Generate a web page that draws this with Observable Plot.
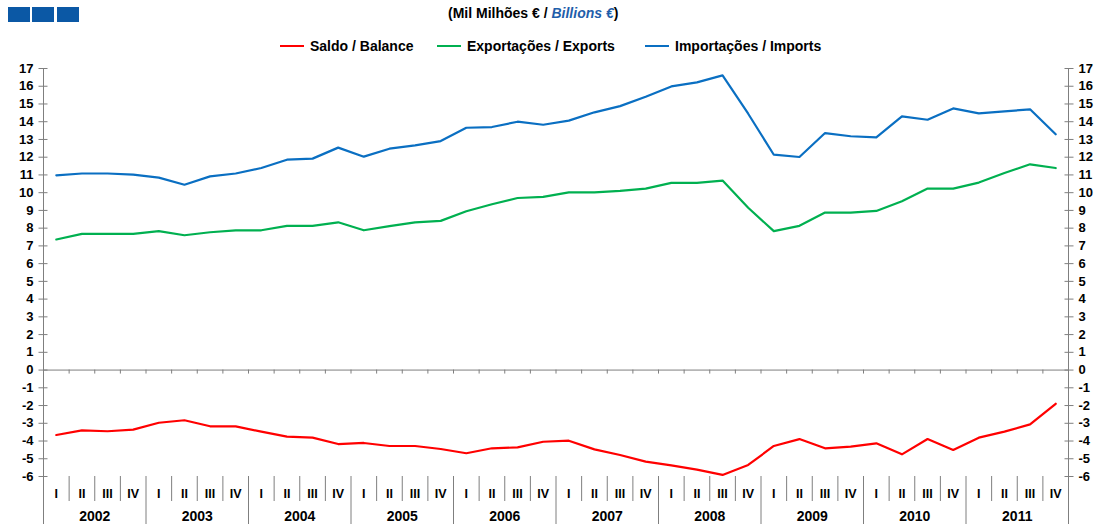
<!DOCTYPE html>
<html>
<head>
<meta charset="utf-8">
<script src="https://cdn.jsdelivr.net/npm/d3@7"></script>
<script src="https://cdn.jsdelivr.net/npm/@observablehq/plot@0.6"></script>
<style>
  html, body { margin: 0; padding: 0; background: #fff; }
  body { width: 1099px; height: 524px; overflow: hidden; font-family: "Liberation Sans", Arial, sans-serif; font-weight: bold; color: #000; }
  #header { position: relative; width: 1099px; height: 58px; }
  .sq { position: absolute; top: 7px; width: 22px; height: 15px; background: #0b58a5; }
  #title { position: absolute; left: 448px; top: 5px; font-size: 14px; white-space: nowrap; }
  #title i { color: #1f5eaa; }
  .leg { position: absolute; top: 38px; font-size: 14px; white-space: nowrap; display: flex; align-items: center; }
  .leg span.sw { display: inline-block; width: 24px; height: 2px; margin-right: 6px; }
  svg { display: block; }
</style>
</head>
<body>
<div id="header"></div>
<div id="chart"></div>
<script>
// ---- data ----
const years = [2002, 2003, 2004, 2005, 2006, 2007, 2008, 2009, 2010, 2011];
const quarters = ["I", "II", "III", "IV"];
const yTicks = [-6, -5, -4, -3, -2, -1, 0, 1, 2, 3, 4, 5, 6, 7, 8, 9, 10, 11, 12, 13, 14, 15, 16, 17];

const imports = [
  10.98, 11.08, 11.08, 11.02,
  10.85, 10.45, 10.92, 11.08,
  11.39, 11.86, 11.92, 12.54,
  12.03, 12.48, 12.67, 12.91,
  13.66, 13.70, 14.00, 13.83,
  14.06, 14.53, 14.88, 15.41,
  15.99, 16.22, 16.61, 14.45,
  12.14, 12.01, 13.36, 13.18,
  13.12, 14.30, 14.11, 14.75,
  14.47, 14.58, 14.70, 13.29
];
const exports_ = [
  7.36, 7.68, 7.68, 7.68,
  7.83, 7.60, 7.77, 7.88,
  7.88, 8.13, 8.13, 8.33,
  7.88, 8.11, 8.33, 8.41,
  8.95, 9.35, 9.70, 9.76,
  10.02, 10.02, 10.10, 10.23,
  10.55, 10.55, 10.68, 9.15,
  7.83, 8.13, 8.88, 8.88,
  8.97, 9.52, 10.23, 10.23,
  10.57, 11.11, 11.60, 11.39
];
const balance = [
  -3.66, -3.40, -3.45, -3.36,
  -2.97, -2.83, -3.17, -3.17,
  -3.47, -3.75, -3.81, -4.17,
  -4.11, -4.28, -4.28, -4.45,
  -4.69, -4.41, -4.36, -4.04,
  -3.98, -4.47, -4.79, -5.16,
  -5.37, -5.61, -5.91, -5.35,
  -4.28, -3.89, -4.41, -4.32,
  -4.13, -4.75, -3.89, -4.50,
  -3.81, -3.47, -3.06, -1.90
];
const seriesNames = ["Saldo / Balance", "Exportações / Exports", "Importações / Imports"];
const seriesColors = ["#ff0000", "#00b050", "#0a6fc2"];
const seriesValues = [balance, exports_, imports];

// ---- header (title + legend) ----
const header = document.getElementById("header");
[8, 32, 57].forEach(l => {
  const d = document.createElement("div");
  d.className = "sq"; d.style.left = l + "px"; header.appendChild(d);
});
const title = document.createElement("div");
title.id = "title";
title.innerHTML = "(Mil Milhões € / <i>Billions €</i>)";
header.appendChild(title);
const legLeft = [280, 437, 645];
seriesNames.forEach((name, k) => {
  const d = document.createElement("div");
  d.className = "leg";
  d.style.left = legLeft[k] + "px";
  d.innerHTML = `<span class="sw" style="background:${seriesColors[k]}"></span>${name}`;
  header.appendChild(d);
});

// ---- chart ----
const n = years.length * 4;
const idx = d3.range(n);
const rows = seriesNames.flatMap((s, k) => seriesValues[k].map((v, i) => ({i, v, s})));
const boundaries = d3.range(1, n);
const quarterBounds = boundaries.filter(k => k % 4 !== 0);
const yearBounds = boundaries.filter(k => k % 4 === 0);
const axisColor = "#7f7f7f";
const fmt = d => String(d);

const chart = Plot.plot({
  width: 1099,
  height: 466,
  marginTop: 10,
  marginBottom: 48,
  marginLeft: 43,
  marginRight: 31,
  style: {fontFamily: "Liberation Sans, Arial, sans-serif", fontWeight: "bold", fontSize: "13px", color: "#000", background: "#fff"},
  x: {type: "linear", domain: [-0.5, n - 0.5], axis: null},
  y: {domain: [-6, 17], axis: null},
  color: {domain: seriesNames, range: seriesColors},
  marks: [
    // zero line and quarter ticks on it
    Plot.ruleY([0], {stroke: axisColor}),
    Plot.ruleX(boundaries, {x: d => d - 0.5, y1: 0, y2: 0, insetBottom: -4, stroke: axisColor}),
    // vertical axes lines (extend into category area)
    Plot.ruleX([-0.5, n - 0.5], {x: d => d, stroke: axisColor, insetBottom: -48}),
    // category separators
    Plot.ruleX(quarterBounds, {x: d => d - 0.5, y1: -6, y2: -6, insetBottom: -25, stroke: axisColor}),
    Plot.ruleX(yearBounds, {x: d => d - 0.5, y1: -6, y2: -6, insetBottom: -48, stroke: axisColor}),
    // y-axis cross ticks
    Plot.axisY({anchor: "left", ticks: yTicks, tickSize: 9, dx: 4.5, tickFormat: () => "", label: null, stroke: axisColor}),
    Plot.axisY({anchor: "right", ticks: yTicks, tickSize: 9, dx: -4.5, tickFormat: () => "", label: null, stroke: axisColor}),
    // y-axis labels
    Plot.axisY({anchor: "left", ticks: yTicks, tickSize: 0, tickPadding: 10, tickFormat: fmt, label: null}),
    Plot.axisY({anchor: "right", ticks: yTicks, tickSize: 0, tickPadding: 10, tickFormat: fmt, label: null}),
    // quarter and year labels
    Plot.text(idx, {x: d => d, y: () => -6, dy: 17, text: d => quarters[d % 4], fontSize: 12.5}),
    Plot.text(years, {x: (d, i) => i * 4 + 1.5, y: () => -6, dy: 40, text: d => String(d), fontSize: 14}),
    // series
    Plot.line(rows, {x: "i", y: "v", z: "s", stroke: "s", strokeWidth: 2.2})
  ]
});
document.getElementById("chart").appendChild(chart);
</script>
</body>
</html>
